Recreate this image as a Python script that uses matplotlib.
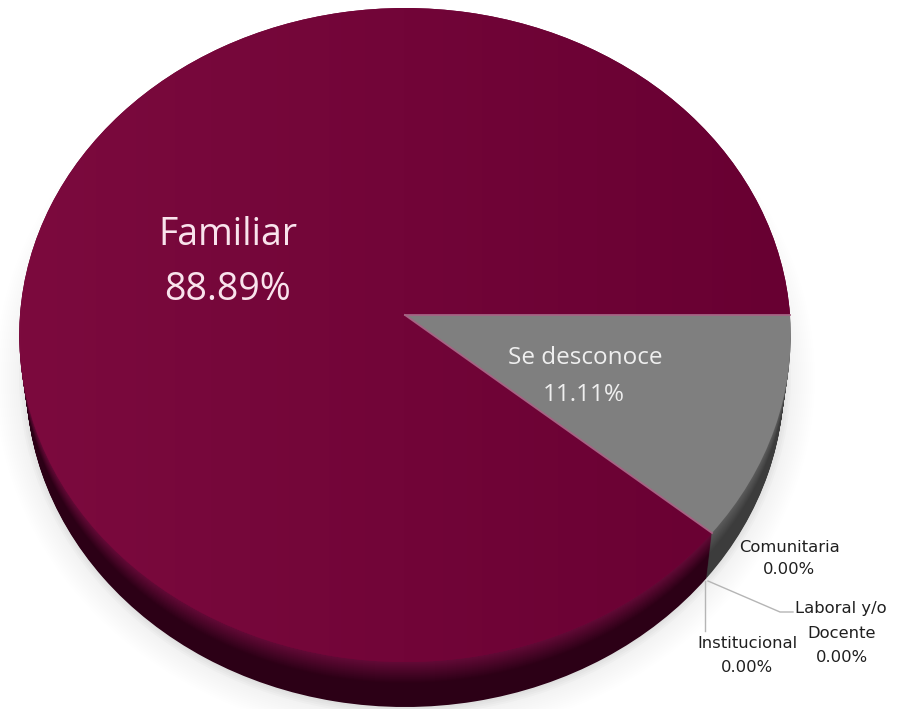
import matplotlib
matplotlib.use("Agg")
import matplotlib.pyplot as plt
import numpy as np
from matplotlib.patches import Ellipse
from matplotlib.transforms import Transform

categories = ["Familiar", "Se desconoce", "Comunitaria", "Laboral y/o\nDocente", "Institucional"]
shares = [88.89, 11.11, 0.00, 0.00, 0.00]

top_colors = ["#710637", "#7f7f7f", "#7f7f7f", "#7f7f7f", "#7f7f7f"]
depth = 45


class Tilt(Transform):
    # unit pie -> image pixels, the apex sits above the middle of the ellipse
    input_dims = 2
    output_dims = 2
    has_inverse = False

    def __init__(self, drop=0):
        super().__init__()
        self.drop = drop

    def transform_non_affine(self, xy):
        xy = np.asarray(xy, dtype=float)
        d = 0.0612 * xy[:, 1] + 1
        # lower copies get a bit narrower, the side is thin at left and right
        px = 405 + (385 - 0.15 * self.drop) * xy[:, 0] / d
        py = (-306.5 * xy[:, 1] + 315) / d + self.drop
        return np.column_stack([px, py])


def draw_pie(ax, colors, drop=0):
    wedges, _ = ax.pie(shares, colors=colors, startangle=0, wedgeprops={"linewidth": 0})
    for w in wedges:
        w.set_transform(Tilt(drop) + ax.transData)
    return wedges


def side_color(start, end, t):
    a = np.array(matplotlib.colors.to_rgb(start))
    b = np.array(matplotlib.colors.to_rgb(end))
    return tuple(a + (b - a) * t)


fig = plt.figure(figsize=(8.97, 7.09), dpi=100, facecolor="white")
ax = fig.add_axes([0, 0, 1, 1])

# soft shadow under the pie, nothing above it
for grow in range(32, 0, -2):
    ax.add_patch(Ellipse((405, 378), 2 * (378 + grow), 2 * (329 + grow),
                         color="black", alpha=0.005 + 0.016 * (grow < 10), lw=0))

# side of the pie, stacked copies getting darker
for i in range(depth, 0, -1):
    t = min(i / 22, 1)
    cols = [side_color("#640a37", "#2c0016", t)] + [side_color("#5c5c5c", "#3c3c3c", t)] * 4
    draw_pie(ax, cols, i)

faces = draw_pie(ax, top_colors)

# slight left-right shading on the big slice
ramp = np.linspace(0, 1, 256)[None, :, None]
left = np.array([124, 10, 62]) / 255
right = np.array([104, 0, 50]) / 255
im = ax.imshow(left + (right - left) * ramp, extent=[18, 790, 700, 0], aspect="auto", zorder=2)
im.set_clip_path(faces[0])

# thin light line along the slice borders
angle = np.deg2rad(-shares[1] * 3.6)
for a in [0, angle]:
    ax.plot([0, np.cos(a)], [0, np.sin(a)], color="#a56484", lw=1.3, zorder=3,
            transform=Tilt() + ax.transData)

font = "Open Sans"
ax.text(228, 235, categories[0], fontsize=27, color="#f9e3ec", ha="center", va="center", family=font)
ax.text(228, 290, f"{shares[0]:.2f}%", fontsize=27, color="#f9e3ec", ha="center", va="center", family=font)
ax.text(585, 358, categories[1], fontsize=17.5, color="#efefef", ha="center", va="center", family=font)
ax.text(584, 395, f"{shares[1]:.2f}%", fontsize=17.5, color="#efefef", ha="center", va="center", family=font)

small = {"fontsize": 11.8, "color": "#1f1f1f", "ha": "center", "va": "center", "family": "DejaVu Sans"}
ax.text(789, 547, categories[2], **small)
ax.text(789, 570, f"{shares[2]:.2f}%", **small)
ax.text(841, 608, "Laboral y/o", **small)
ax.text(842, 634, "Docente", **small)
ax.text(842, 657, f"{shares[3]:.2f}%", **small)
ax.text(747, 643, categories[4], **small)
ax.text(747, 667, f"{shares[4]:.2f}%", **small)

# leader lines
ax.plot([705, 705], [581, 631], color="#b5b5b5", lw=1, zorder=3)
ax.plot([708, 780, 793], [581, 612, 612], color="#b5b5b5", lw=1, zorder=3)

ax.set_xlim(0, 897)
ax.set_ylim(709, 0)
ax.set_aspect("auto")
ax.axis("off")

fig.savefig("out.png", dpi=100, facecolor="white")
